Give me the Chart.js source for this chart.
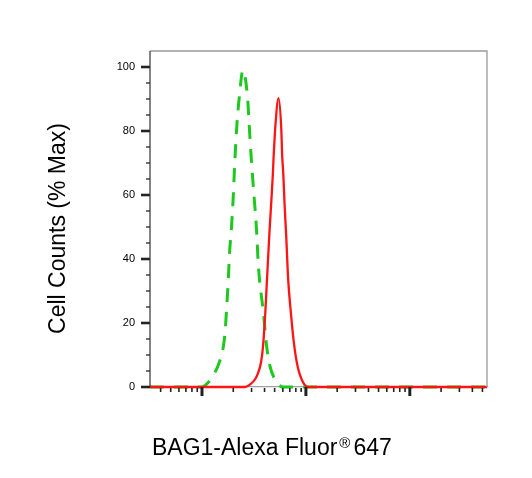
<!DOCTYPE html>
<html lang="en">
<head>
  <meta charset="UTF-8">
  <title>BAG1 flow histogram</title>
  <script src="https://cdn.jsdelivr.net/npm/chart.js@4.4.1/dist/chart.umd.min.js"></script>
  <style>
    html, body { margin: 0; padding: 0; background: #fff; }
  </style>
</head>
<body>
  <canvas id="myChart" width="532" height="478"></canvas>
</body>
<script>
  // y tick labels (% Max)
  const yTickLabels = [0, 20, 40, 60, 80, 100];

  // isotype control (green, dashed) - fluorescence intensity / % max
  const controlX = [31.6, 100.7, 110, 120.2, 131.3, 143.6, 160.3, 167.5, 171.4, 179.1, 184.1, 191.4, 198.6, 204.6, 208.9, 217.3, 228.6, 247.7,
                    274.2, 285.1, 295.8, 306.9, 320.6, 335, 345.1, 355.6, 363.9, 390.8, 412.1, 443.6, 507, 605.3, 55300];
  const controlY = [0, 0, 0.8, 2.2, 4.2, 6.9, 12.5, 17.8, 23, 33.4, 41.9, 49, 57.5, 66.9, 73, 82.5, 90.6, 99,
                    90.6, 81.5, 73, 65.6, 57.5, 49, 40.6, 34.4, 31.2, 23, 14.7, 7.5, 2.2, 0, 0];

  // BAG1 stained (red, solid)
  const bag1X = [31.6, 260.6, 291.1, 325.4, 347.5, 368.8, 386.3, 406.4, 421.9, 443.6, 463.6, 481.5, 487.5, 507, 545.5,
                 578.8, 591.6, 605.3, 622.6, 646.7, 675.7, 717.8, 760.3, 819.4, 915.2, 1051.6, 55300];
  const bag1Y = [0, 0, 0.8, 2.5, 4.5, 7.5, 12.5, 23, 33.4, 47, 57.5, 66.9, 71, 81, 90.3,
                 81, 72, 66.9, 57.5, 47, 33.4, 23, 14.7, 7.5, 2.2, 0, 0];

  const toPoints = (xs, ys) => xs.map((v, i) => ({ x: v, y: ys[i] }));

  // tick marks, frame and axis titles
  const axisMarks = {
    id: 'axisMarks',
    afterDraw(chart) {
      const { ctx, chartArea: a, scales: { x, y } } = chart;
      ctx.save();

      // grey frame top + right
      ctx.strokeStyle = '#9a9a9a';
      ctx.lineWidth = 1.3;
      ctx.beginPath();
      ctx.moveTo(a.left, a.top);
      ctx.lineTo(a.right, a.top);
      ctx.lineTo(a.right, a.bottom);
      ctx.stroke();

      // y ticks
      ctx.strokeStyle = '#222';
      y.ticks.forEach(t => {
        if (t.value > 100) return;
        const py = y.getPixelForValue(t.value);
        const major = yTickLabels.includes(t.value);
        ctx.lineWidth = major ? 2.6 : 1.3;
        ctx.beginPath();
        ctx.moveTo(a.left - (major ? 9 : 4), py);
        ctx.lineTo(a.left, py);
        ctx.stroke();
      });

      // x ticks (log decades)
      for (let e = 1; e <= 4; e++) {
        for (let s = 1; s <= 9; s++) {
          const v = s * Math.pow(10, e);
          if (v < x.min || v > x.max) continue;
          const px = x.getPixelForValue(v);
          const major = s === 1;
          ctx.lineWidth = major ? 3 : 1.6;
          ctx.beginPath();
          ctx.moveTo(px, a.bottom + (major ? 0 : 1));
          ctx.lineTo(px, a.bottom + (major ? 9 : 5));
          ctx.stroke();
        }
      }

      // left axis line
      ctx.strokeStyle = '#333';
      ctx.lineWidth = 1.2;
      ctx.beginPath();
      ctx.moveTo(a.left, a.top);
      ctx.lineTo(a.left, a.bottom);
      ctx.stroke();

      // y title
      ctx.fillStyle = '#000';
      ctx.font = '23px "Liberation Sans", Arial, sans-serif';
      ctx.save();
      ctx.translate(65, 228.5);
      ctx.rotate(-Math.PI / 2);
      ctx.textAlign = 'center';
      ctx.textBaseline = 'alphabetic';
      ctx.fillText('Cell Counts (% Max)', 0, 0);
      ctx.restore();

      // x title with superscript ®
      ctx.textAlign = 'left';
      ctx.textBaseline = 'alphabetic';
      const x0 = 152, base = 455;
      const part1 = 'BAG1-Alexa Fluor';
      ctx.fillText(part1, x0, base);
      let cx = x0 + ctx.measureText(part1).width + 2;
      ctx.font = '15px "Liberation Sans", Arial, sans-serif';
      ctx.fillText('®', cx, base - 7);
      cx += ctx.measureText('®').width + 3;
      ctx.font = '23px "Liberation Sans", Arial, sans-serif';
      ctx.fillText('647', cx, base);

      ctx.restore();
    }
  };

  const ctx = document.getElementById('myChart').getContext('2d');
  const config = {
    type: 'line',
    data: {
      datasets: [{
        label: 'BAG1',
        data: toPoints(bag1X, bag1Y),
        borderColor: '#ff1414',
        borderWidth: 2.3,
        pointRadius: 0,
        cubicInterpolationMode: 'monotone',
        clip: false
      }, {
        label: 'Control',
        data: toPoints(controlX, controlY),
        borderColor: '#1ec81e',
        borderWidth: 3,
        borderDash: [14, 10],
        pointRadius: 0,
        cubicInterpolationMode: 'monotone',
        clip: false
      }]
    },
    options: {
      responsive: false,
      animation: false,
      layout: { padding: { top: 51, right: 45, left: 0, bottom: 0 } },
      plugins: {
        legend: { display: false },
        tooltip: { enabled: false }
      },
      scales: {
        x: {
          type: 'logarithmic',
          min: 31.6,
          max: 55300,
          ticks: { display: false },
          grid: { display: false, drawTicks: false },
          border: { color: '#a0a0a0', width: 1.3 },
          afterFit: s => { s.height = 91; }
        },
        y: {
          min: 0,
          max: 105,
          ticks: {
            stepSize: 5,
            autoSkip: false,
            padding: 15,
            color: '#000',
            font: { family: '"Liberation Sans", Arial, sans-serif', size: 11 },
            callback: v => yTickLabels.includes(v) ? v : ''
          },
          grid: { display: false, drawTicks: false },
          border: { display: false },
          afterFit: s => { s.width = 150; }
        }
      }
    },
    plugins: [axisMarks]
  };

  const myChart = new Chart(ctx, config);
</script>
</html>
